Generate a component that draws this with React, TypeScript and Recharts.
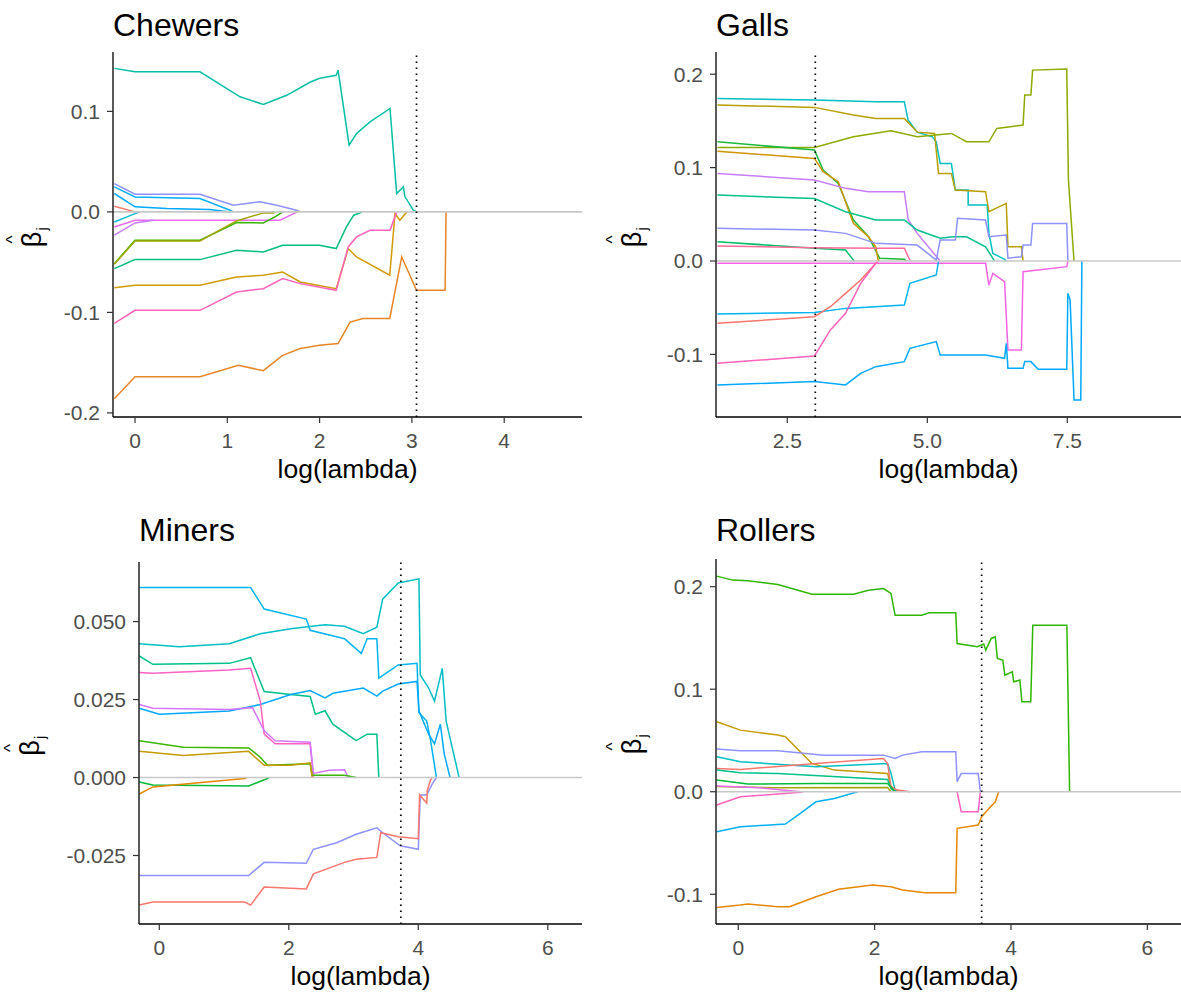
import React from "react";
import { LineChart, Line, XAxis, YAxis, ReferenceLine } from "recharts";

const FONT = '"Liberation Sans", Arial, Helvetica, sans-serif';

// ---- Chewers ----
const chewersXTicks = [0, 1, 2, 3, 4];
const chewersYTicks = [-0.2, -0.1, 0, 0.1];
const chewersCut = 3.05;
const chewersPaths: number[][][] = [
  [[-0.224, 0.1428], [0, 0.1394], [0.704, 0.1394], [1.138, 0.1145], [1.39, 0.107], [1.643, 0.116], [1.896, 0.129], [2.0, 0.133], [2.18, 0.136], [2.2, 0.141], [2.32, 0.0664], [2.4, 0.078], [2.546, 0.0896], [2.763, 0.1029], [2.835, 0.0183], [2.907, 0.0249], [2.925, 0.015], [3.016, 0.0017], [3.05, 0]],
  [[-0.224, 0.0282], [0, 0.0176], [0.704, 0.0176], [1.065, 0.0066], [1.354, 0.01], [1.535, 0.0066], [1.75, 0.0017], [1.79, 0]],
  [[-0.224, 0.0249], [0, 0.0149], [0.704, 0.0133], [1.03, 0.0017], [1.065, 0]],
  [[-0.224, 0.0183], [0, 0.005], [0.343, 0.0033], [0.81, 0.0023], [1.03, 0]],
  [[-0.224, 0.0056], [0, 0]],
  [[-0.224, -0.01], [0, -0.0017], [0.05, 0]],
  [[-0.224, -0.015], [0, -0.0083], [1.57, -0.0083], [1.72, -0.0017], [1.76, 0]],
  [[-0.224, -0.0232], [0, -0.011], [0.2, -0.0083]],
  [[-0.224, -0.0515], [0, -0.0282], [0.704, -0.0282], [1.1, -0.0106], [1.39, -0.011], [1.53, -0.0043], [1.6, 0]],
  [[-0.224, -0.052], [0, -0.029], [0.704, -0.029], [1.1, -0.009], [1.39, -0.001], [1.5, -0.001], [1.52, 0]],
  [[-0.224, -0.0564], [0, -0.0475], [0.704, -0.0475], [1.1, -0.0382], [1.39, -0.0398], [1.6, -0.0332], [2.0, -0.0332], [2.18, -0.0365], [2.29, -0.0149], [2.37, -0.0033], [2.44, -0.001], [2.46, 0]],
  [[-0.224, -0.0754], [0, -0.073], [0.704, -0.073], [1.1, -0.0647], [1.39, -0.063], [1.6, -0.0598], [1.79, -0.0697], [2.18, -0.0764], [2.31, -0.0365], [2.4, -0.0448], [2.76, -0.063], [2.817, -0.0017], [2.87, -0.0083], [2.93, -0.0017], [2.95, 0]],
  [[-0.224, -0.111], [0, -0.098], [0.704, -0.098], [1.1, -0.0797], [1.39, -0.0764], [1.6, -0.0664], [1.79, -0.0714], [2.18, -0.078], [2.31, -0.0349], [2.4, -0.0249], [2.546, -0.0183], [2.763, -0.0183], [2.835, 0]],
  [[-0.224, -0.186], [0, -0.164], [0.704, -0.164], [1.12, -0.1527], [1.39, -0.158], [1.6, -0.1428], [1.79, -0.136], [2.0, -0.1328], [2.2, -0.131], [2.33, -0.1096], [2.47, -0.106], [2.76, -0.106], [2.89, -0.0448], [3.05, -0.078], [3.36, -0.078], [3.37, 0]],
];
const chewersColors = ["#00BFA4", "#8F91FF", "#00B0F6", "#00A9FF", "#F8766D", "#00BCD8", "#E76BF3", "#C77CFF", "#39B600", "#A3A500", "#00BF7D", "#CF9B00", "#FF62BC", "#E88526"];

// ---- Galls ----
const gallsXTicks = [2.5, 5, 7.5];
const gallsYTicks = [-0.1, 0, 0.1, 0.2];
const gallsCut = 3.0;
const gallsPaths: number[][][] = [
  [[1.253, 0.174], [2.985, 0.1723], [4.08, 0.1705], [4.59, 0.1705], [4.656, 0.151], [4.82, 0.138], [5.09, 0.133], [5.16, 0.1277], [5.23, 0.1045], [5.43, 0.1045], [5.5, 0.076], [5.73, 0.076], [5.73, 0.06], [6.07, 0.06], [6.1, 0.0296], [6.17, 0.0082], [6.38, 0.0018], [6.41, 0]],
  [[1.253, 0.167], [2.985, 0.1645], [3.68, 0.1563], [4.08, 0.1527], [4.59, 0.1527], [4.82, 0.138], [5.13, 0.1366], [5.2, 0.0938], [5.43, 0.0938], [5.5, 0.076], [6.04, 0.0742], [6.1, 0.0528], [6.41, 0.0617], [6.44, 0.0153], [6.68, 0.0153], [6.71, 0]],
  [[1.253, 0.1216], [2.985, 0.1216], [3.68, 0.133], [4.35, 0.1395], [4.82, 0.133], [5.43, 0.1366], [5.7, 0.1277], [6.1, 0.1277], [6.24, 0.142], [6.71, 0.1456], [6.74, 0.1777], [6.85, 0.1777], [6.88, 0.2044], [7.49, 0.2055], [7.52, 0.0867], [7.62, 0]],
  [[1.253, 0.1276], [2.985, 0.1188], [3.14, 0.0974], [3.41, 0.0831], [3.68, 0.0439], [3.95, 0.026], [4.15, 0.0029], [4.59, 0.0018], [4.62, 0]],
  [[1.253, 0.1176], [2.985, 0.1099], [3.14, 0.0956], [3.41, 0.0849], [3.68, 0.0403], [3.95, 0.026], [4.08, 0.0153], [4.12, 0.0018], [4.15, 0]],
  [[1.253, 0.0938], [2.985, 0.0867], [3.54, 0.0778], [3.95, 0.0742], [4.59, 0.0742], [4.66, 0.0439], [4.82, 0.0296], [5.23, 0]],
  [[1.253, 0.0706], [2.985, 0.067], [3.54, 0.0528], [4.08, 0.0439], [4.59, 0.0439], [4.82, 0.0332], [5.23, 0.0243], [5.46, 0.026], [5.7, 0.026], [6.04, 0.0153], [6.17, 0.0029], [6.2, 0]],
  [[1.253, 0.035], [2.985, 0.0332], [3.54, 0.0296], [4.08, 0.0189], [4.82, 0.0171], [5.16, 0.001], [5.23, 0.0225], [5.5, 0.0225], [5.54, 0.0457], [6.04, 0.0439], [6.1, 0.026], [6.41, 0.0278], [6.44, 0.003], [6.68, 0.0046], [6.71, 0.0171], [6.85, 0.0171], [6.88, 0.0403], [7.49, 0.0403], [7.51, 0]],
  [[1.253, 0.0207], [2.985, 0.0136], [3.54, 0.0118], [3.68, 0.001], [3.7, 0]],
  [[1.253, 0.016], [2.985, 0.0143], [4.08, 0.0136], [4.59, 0.0136], [4.66, 0.0046], [4.7, 0]],
  [[1.253, -0.0025], [6.04, -0.0025], [6.1, -0.0257], [6.17, -0.0132], [6.38, -0.022], [6.44, -0.0953], [6.68, -0.0953], [6.71, -0.0114], [7.49, -0.006], [7.51, 0]],
  [[1.253, -0.0567], [2.985, -0.055], [3.54, -0.0507], [4.59, -0.0471], [4.69, -0.0239], [5.16, -0.015], [5.2, 0]],
  [[1.253, -0.0667], [2.985, -0.0596], [3.27, -0.0489], [3.54, -0.0346], [3.81, -0.0203], [4.08, -0.0025], [4.12, 0]],
  [[1.253, -0.1095], [2.985, -0.1017], [3.27, -0.0738], [3.54, -0.056], [3.81, -0.0239], [4.08, -0.0025], [4.12, 0]],
  [[1.253, -0.1327], [2.985, -0.1291], [3.54, -0.1327], [3.81, -0.1202], [4.08, -0.1131], [4.59, -0.1077], [4.69, -0.0935], [5.16, -0.0863], [5.23, -0.1006], [6.04, -0.1006], [6.38, -0.1042], [6.41, -0.0881], [6.44, -0.1149], [6.71, -0.1149], [6.74, -0.1077], [6.85, -0.1077], [6.98, -0.116], [7.49, -0.116], [7.51, -0.0346], [7.55, -0.0417], [7.62, -0.1488], [7.74, -0.1488], [7.76, 0]],
];
const gallsColors = ["#00BFC4", "#B79F00", "#8CAB00", "#1DB83A", "#CF9400", "#C77CFF", "#00C08B", "#8F91FF", "#00BE67", "#FF6A98", "#F564E3", "#00B4EF", "#F8766D", "#FF62BC", "#00A9FF"];

// ---- Miners ----
const minersXTicks = [0, 2, 4, 6];
const minersYTicks = [-0.025, 0, 0.025, 0.05];
const minersCut = 3.73;
const minersPaths: number[][][] = [
  [[-0.31, 0.0429], [0.31, 0.0419], [1.08, 0.0429], [1.56, 0.0461], [2.03, 0.0477], [2.56, 0.049], [2.86, 0.0485], [3.15, 0.0461], [3.36, 0.0482], [3.45, 0.0572], [3.69, 0.0624], [4.01, 0.0637], [4.03, 0.0329], [4.16, 0.0287], [4.25, 0.0245], [4.37, 0.035], [4.43, 0.0181], [4.63, 0]],
  [[-0.31, 0.0609], [1.41, 0.0609], [1.62, 0.054], [2.27, 0.0508], [2.33, 0.0472], [2.86, 0.0445], [3.12, 0.0398], [3.21, 0.0445], [3.36, 0.0445], [3.39, 0.0319], [3.69, 0.0361], [3.98, 0.0366], [4.01, 0.0208], [4.13, 0.0181], [4.19, 0.0118], [4.28, 0]],
  [[-0.31, 0.039], [-0.1, 0.0363], [1.08, 0.0366], [1.41, 0.0384], [1.62, 0.0276], [2.03, 0.0266], [2.33, 0.026], [2.41, 0.0203], [2.56, 0.0214], [2.68, 0.0171], [3.04, 0.0118], [3.21, 0.0139], [3.36, 0.0139], [3.39, 0]],
  [[-0.31, 0.0222], [0, 0.0203], [1.08, 0.0213], [1.56, 0.0234], [2.03, 0.0266], [2.33, 0.0279], [2.56, 0.0255], [2.68, 0.027], [3.15, 0.0287], [3.36, 0.0261], [3.45, 0.0277], [3.69, 0.03], [3.98, 0.0308], [4.01, 0.0213], [4.16, 0.0139], [4.25, 0.0108], [4.34, 0.0171], [4.4, 0.0076], [4.49, 0]],
  [[-0.31, 0.0337], [-0.1, 0.0334], [1.08, 0.0345], [1.41, 0.035], [1.56, 0.0245], [1.62, 0.0139], [1.79, 0.0108], [2.33, 0.0108], [2.38, 0]],
  [[-0.31, 0.0234], [-0.1, 0.0222], [1.08, 0.0218], [1.44, 0.0224], [1.62, 0.015], [1.79, 0.0118], [2.33, 0.0113], [2.38, 0.0013], [2.62, 0.0023], [2.86, 0.0025], [2.92, 0]],
  [[-0.31, 0.0118], [0.37, 0.0097], [1.38, 0.0095], [1.56, 0.0065], [1.67, 0.0039], [2.33, 0.0044], [2.36, 0.0007], [2.86, 0.0007], [3.04, 0]],
  [[-0.31, 0.0084], [0.37, 0.0071], [1.38, 0.0084], [1.62, 0.0039], [2.03, 0.0039], [2.33, 0.0047], [2.36, 0]],
  [[-0.31, -0.0014], [-0.1, -0.0024], [1.38, -0.0027], [1.67, -0.0003], [1.7, 0]],
  [[-0.31, -0.0053], [-0.1, -0.003], [1.32, -0.0003], [1.35, 0]],
  [[-0.31, -0.0314], [1.38, -0.0314], [1.62, -0.0272], [2.27, -0.0275], [2.38, -0.023], [2.74, -0.0209], [3.04, -0.0182], [3.36, -0.0161], [3.45, -0.0177], [3.72, -0.0219], [4.0, -0.023], [4.03, -0.0056], [4.13, -0.0056], [4.22, -0.0019], [4.28, 0]],
  [[-0.31, -0.0409], [-0.1, -0.0399], [1.32, -0.0399], [1.41, -0.0409], [1.62, -0.0351], [2.27, -0.0357], [2.38, -0.0309], [2.86, -0.0272], [3.04, -0.0262], [3.36, -0.0256], [3.42, -0.0177], [3.69, -0.019], [4.0, -0.0196], [4.02, -0.0056], [4.13, -0.0082], [4.14, -0.004], [4.19, -0.0008], [4.21, 0]],
];
const minersColors = ["#00BFC4", "#00B4EF", "#00C08B", "#00A9FF", "#FF61C3", "#D575FE", "#39B600", "#C49A00", "#00BA38", "#E58700", "#8F91FF", "#F8766D"];

// ---- Rollers ----
const rollersXTicks = [0, 2, 4, 6];
const rollersYTicks = [-0.1, 0, 0.1, 0.2];
const rollersCut = 3.57;
const rollersPaths: number[][][] = [
  [[-0.316, 0.2103], [-0.083, 0.2064], [0.14, 0.2057], [0.58, 0.2021], [1.08, 0.1927], [1.69, 0.1927], [1.91, 0.1966], [2.13, 0.1982], [2.24, 0.1934], [2.3, 0.1722], [2.69, 0.1722], [2.8, 0.1745], [3.19, 0.1745], [3.21, 0.1446], [3.51, 0.1414], [3.6, 0.144], [3.63, 0.1381], [3.71, 0.1495], [3.77, 0.1511], [3.8, 0.13], [3.88, 0.1284], [3.91, 0.1137], [4.02, 0.117], [4.04, 0.1072], [4.13, 0.1089], [4.16, 0.0877], [4.29, 0.0877], [4.32, 0.1625], [4.82, 0.1625], [4.84, 0.0812], [4.86, 0]],
  [[-0.316, 0.0682], [0.03, 0.0601], [0.58, 0.0553], [0.69, 0.0536], [1.08, 0.0276], [1.41, 0.0211], [2.19, 0.0179], [2.24, 0.0049], [2.35, 0]],
  [[-0.316, 0.0416], [0.03, 0.04], [0.58, 0.04], [1.25, 0.0357], [2.13, 0.0357], [2.3, 0.0325], [2.41, 0.0357], [2.69, 0.039], [3.19, 0.039], [3.21, 0.0098], [3.27, 0.0179], [3.52, 0.0179], [3.55, 0]],
  [[-0.316, 0.0341], [0.03, 0.0292], [1.14, 0.0244], [2.19, 0.0276], [2.24, 0.0179], [2.3, 0.0016], [2.33, 0]],
  [[-0.316, 0.0227], [0.03, 0.0218], [1.14, 0.0276], [2.13, 0.0325], [2.19, 0.0276], [2.24, 0.0049], [2.33, 0.0016], [2.52, 0]],
  [[-0.316, 0.0211], [0.03, 0.0185], [0.58, 0.0179], [2.19, 0.012], [2.24, 0.0032], [2.3, 0]],
  [[-0.316, 0.0114], [0.14, 0.0075], [1.14, 0.0081], [2.19, 0.0081], [2.3, 0]],
  [[-0.316, 0.005], [0.5, 0.004], [2.19, 0.0042], [2.24, 0]],
  [[-0.316, 0.0055], [0.3, 0.004], [0.91, 0]],
  [[-0.316, -0.013], [0.03, -0.0049], [0.91, -0.0006], [0.95, 0]],
  [[3.19, 0], [3.21, 0], [3.27, -0.0195], [3.52, -0.0195], [3.55, 0]],
  [[-0.316, -0.039], [0.03, -0.0341], [0.69, -0.0315], [0.91, -0.0211], [1.14, -0.0098], [1.41, -0.0065], [1.75, 0]],
  [[-0.316, -0.1128], [0.03, -0.1105], [0.14, -0.1095], [0.58, -0.1121], [0.75, -0.1121], [1.14, -0.1024], [1.47, -0.0952], [1.97, -0.091], [2.24, -0.0926], [2.41, -0.0959], [2.74, -0.0985], [3.19, -0.0985], [3.21, -0.0357], [3.52, -0.0325], [3.57, -0.0244], [3.68, -0.0162], [3.77, -0.0098], [3.82, 0]],
];
const rollersColors = ["#2DB600", "#C49A00", "#8F91FF", "#00BFC4", "#F8766D", "#00C08B", "#00BA38", "#A3A500", "#E76BF3", "#FF62BC", "#FF62BC", "#00B0F6", "#E58700"];

type Box = {
  left: number; top: number; width: number; height: number;
  mTop: number; mRight: number; yw: number; xh: number; titleTop: number; yLabDist: number;
};

type PanelProps = {
  title: string;
  paths: number[][][];
  colors: string[];
  xDomain: [number, number];
  yDomain: [number, number];
  xTicks: number[];
  yTicks: number[];
  xFmt: (v: number) => string;
  yFmt: (v: number) => string;
  cut: number;
  box: Box;
};

const tickStyle = { fill: "#4D4D4D", fontSize: 21, fontFamily: FONT };

function Panel({ title, paths, colors, xDomain, yDomain, xTicks, yTicks, xFmt, yFmt, cut, box }: PanelProps) {
  const xLabel = (props: any) => {
    const vb = props.viewBox;
    return (
      <text x={vb.x + vb.width / 2} y={vb.y + 61} textAnchor="middle" fontSize={26.5} fontFamily={FONT} fill="#000">
        log(lambda)
      </text>
    );
  };
  // hat-beta with subscript j, rotated like ggplot's y title
  const yLabel = (props: any) => {
    const vb = props.viewBox;
    const cx = vb.x + vb.width - box.yLabDist;
    const cy = vb.y + vb.height / 2;
    return (
      <g transform={`translate(${cx},${cy}) rotate(-90)`} fontFamily={FONT} fill="#000">
        <text x={-5} y={11} textAnchor="middle" fontSize={27}>β</text>
        <text x={-5} y={-12} textAnchor="middle" fontSize={17}>^</text>
        <text x={4} y={17} fontSize={15}>j</text>
      </g>
    );
  };
  return (
    <div style={{ position: "absolute", left: box.left, top: box.top, width: box.width, height: box.height }}>
      <LineChart width={box.width} height={box.height} margin={{ top: box.mTop, right: box.mRight, bottom: 0, left: 0 }}>
        <XAxis
          type="number"
          dataKey="x"
          domain={xDomain}
          ticks={xTicks}
          tickFormatter={xFmt}
          allowDataOverflow
          height={box.xh}
          tick={tickStyle}
          tickSize={6}
          tickMargin={10}
          tickLine={{ stroke: "#333333", strokeWidth: 1.2 }}
          axisLine={{ stroke: "#000", strokeWidth: 1.3 }}
          label={{ content: xLabel }}
        />
        <YAxis
          type="number"
          domain={yDomain}
          ticks={yTicks}
          tickFormatter={yFmt}
          allowDataOverflow
          width={box.yw}
          tick={tickStyle}
          tickSize={6}
          tickMargin={7}
          tickLine={{ stroke: "#333333", strokeWidth: 1.2 }}
          axisLine={{ stroke: "#000", strokeWidth: 1.3 }}
          label={{ content: yLabel }}
        />
        {paths.map((p, i) => (
          <Line
            key={i}
            data={p.map(([x, y]) => ({ x, y }))}
            dataKey="y"
            type="linear"
            stroke={colors[i]}
            strokeWidth={1.5}
            dot={false}
            activeDot={false}
            isAnimationActive={false}
          />
        ))}
        <ReferenceLine y={0} stroke="#C8C8C8" strokeWidth={1.6} />
        <ReferenceLine x={cut} stroke="#000" strokeWidth={1.7} strokeDasharray="1.5 4.5" />
      </LineChart>
      <div
        style={{
          position: "absolute",
          left: box.yw,
          top: box.titleTop,
          fontSize: 32,
          lineHeight: "32px",
          fontFamily: FONT,
          color: "#000",
          whiteSpace: "nowrap",
        }}
      >
        {title}
      </div>
    </div>
  );
}

const f0 = (v: number) => String(v);
const f1 = (v: number) => v.toFixed(1);
const f3 = (v: number) => v.toFixed(3);

export default function App() {
  return (
    <div style={{ position: "absolute", left: 0, top: 0, width: 1181, height: 996, background: "#fff" }}>
      <Panel
        title="Chewers"
        paths={chewersPaths}
        colors={chewersColors}
        xDomain={[-0.2384, 4.843]}
        yDomain={[-0.2041, 0.1591]}
        xTicks={chewersXTicks}
        yTicks={chewersYTicks}
        xFmt={f0}
        yFmt={f1}
        cut={chewersCut}
        box={{ left: 0, top: 0, width: 590, height: 500, mTop: 52, mRight: 8, yw: 113, xh: 83, titleTop: 9, yLabDist: 83 }}
      />
      <Panel
        title="Galls"
        paths={gallsPaths}
        colors={gallsColors}
        xDomain={[1.227, 9.53]}
        yDomain={[-0.167, 0.2238]}
        xTicks={gallsXTicks}
        yTicks={gallsYTicks}
        xFmt={f1}
        yFmt={f1}
        cut={gallsCut}
        box={{ left: 590, top: 0, width: 591, height: 500, mTop: 52, mRight: 0, yw: 126, xh: 83, titleTop: 9, yLabDist: 86 }}
      />
      <Panel
        title="Miners"
        paths={minersPaths}
        colors={minersColors}
        xDomain={[-0.3135, 6.528]}
        yDomain={[-0.04696, 0.0691]}
        xTicks={minersXTicks}
        yTicks={minersYTicks}
        xFmt={f0}
        yFmt={f3}
        cut={minersCut}
        box={{ left: 0, top: 500, width: 590, height: 496, mTop: 62, mRight: 8, yw: 139, xh: 72, titleTop: 14, yLabDist: 111 }}
      />
      <Panel
        title="Rollers"
        paths={rollersPaths}
        colors={rollersColors}
        xDomain={[-0.327, 6.494]}
        yDomain={[-0.129, 0.227]}
        xTicks={rollersXTicks}
        yTicks={rollersYTicks}
        xFmt={f0}
        yFmt={f1}
        cut={rollersCut}
        box={{ left: 590, top: 500, width: 591, height: 496, mTop: 59, mRight: 0, yw: 126, xh: 72, titleTop: 14, yLabDist: 86 }}
      />
    </div>
  );
}
